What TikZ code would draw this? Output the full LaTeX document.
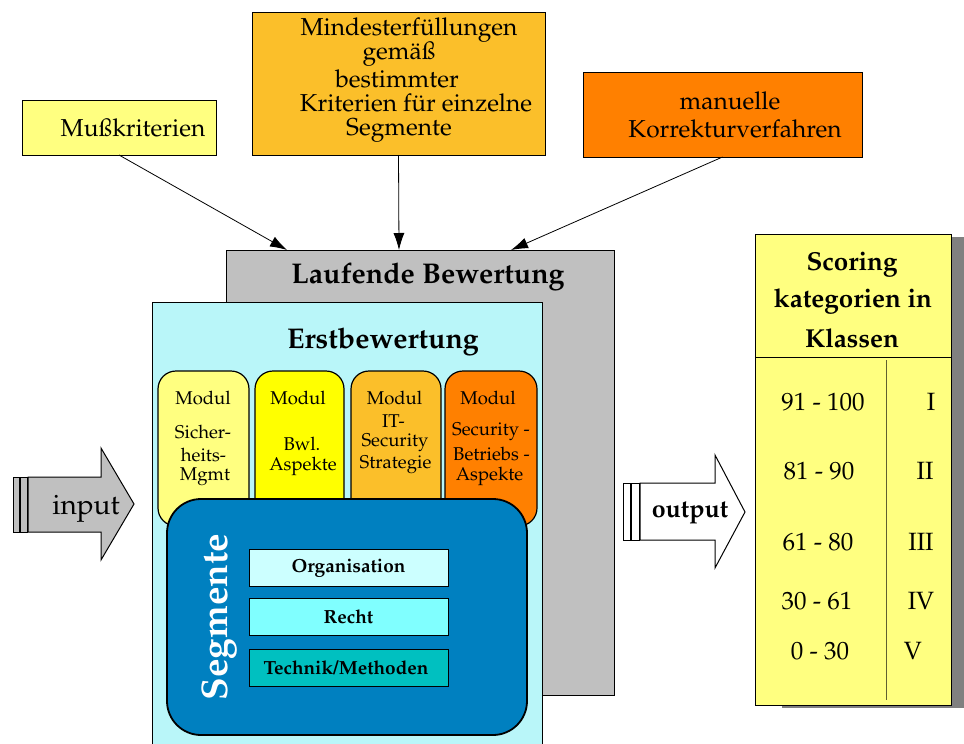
\documentclass[tikz,border=0pt]{standalone}
\usepackage[T1]{fontenc}
\usepackage{mathpazo}
\usetikzlibrary{arrows.meta,calc}
\definecolor{paleY}{HTML}{FFFF80}
\definecolor{pureY}{HTML}{FFFF00}
\definecolor{goldY}{HTML}{FBBF2A}
\definecolor{orangeC}{HTML}{FF8000}
\definecolor{grayC}{HTML}{C0C0C0}
\definecolor{cyanL}{HTML}{B9F6F9}
\definecolor{segBlue}{HTML}{0080C0}
\definecolor{orgC}{HTML}{CCFFFF}
\definecolor{rechtC}{HTML}{80FFFF}
\definecolor{techC}{HTML}{00C0C0}
\definecolor{shadowC}{HTML}{808080}
\definecolor{lineC}{HTML}{606030}
\newcommand\myfs[1]{\fontsize{#1}{#1}\selectfont}
\begin{document}
\begin{tikzpicture}[x=1pt,y=-1pt,
  box/.style={draw=black, line width=0.9pt, inner sep=0pt, outer sep=0pt, anchor=north west},
  txt/.style={inner sep=0pt, outer sep=0pt, anchor=center},
  topt/.style={txt, font=\myfs{24.5}},
  modt/.style={txt, font=\myfs{18.5}},
  modbox/.style={box, rounded corners=18pt, line width=1.2pt, minimum height=155pt},
  segbox/.style={box, line width=0.9pt, minimum width=199pt, minimum height=37pt},
  segt/.style={txt, font=\myfs{19}\bfseries},
  rowt/.style={txt, font=\myfs{25}},
  feed/.style={line width=0.8pt, -{Latex[length=17pt,width=11pt]}},
]
\useasboundingbox (0,0) rectangle (964,744);
\clip (0,0) rectangle (964,744);

% top boxes
\node[box, fill=paleY, minimum width=194pt, minimum height=55pt] (muss) at (22,100) {};
\node[topt] (mussT) at (133,128) {Mu\ss kriterien};

\node[box, fill=goldY, minimum width=293pt, minimum height=143pt] (mind) at (252,12) {};
\node[topt] (mind1) at (409,30) {Mindesterf\"ullungen};
\node[topt] (mind2) at (399,54) {gem\"a\ss};
\node[topt] (mind3) at (397,79) {bestimmter};
\node[topt] (mind4) at (416,103) {Kriterien f\"ur einzelne};
\node[topt] (mind5) at (399,130) {Segmente};

\node[box, fill=orangeC, minimum width=279pt, minimum height=85pt] (manu) at (583,72) {};
\node[topt] (manu1) at (730,101) {manuelle};
\node[topt] (manu2) at (735,129) {Korrekturverfahren};

% Laufende Bewertung
\node[box, fill=grayC, minimum width=388pt, minimum height=445pt] (lauf) at (226,250) {};
\node[txt, font=\myfs{28.5}\bfseries] (laufT) at (428,277) {Laufende Bewertung};

\draw[feed] (muss.south) -- ($(lauf.north west)+(61,0)$);
\draw[feed] (mind.south) -- ($(lauf.north west)+(173,0)$);
\draw[feed] (manu.south) -- ($(lauf.north west)+(285,0)$);

% Erstbewertung
\node[box, fill=cyanL, minimum width=390pt, minimum height=470pt] (erst) at (152,302) {};
\node[txt, font=\myfs{28.5}\bfseries] (erstT) at (383,342) {Erstbewertung};

% modules
\node[modbox, fill=paleY, minimum width=91pt] (m1) at (158,371) {};
\node[modbox, fill=pureY, minimum width=89pt] (m2) at (255,371) {};
\node[modbox, fill=goldY, minimum width=90pt] (m3) at (351,371) {};
\node[modbox, fill=orangeC, minimum width=92pt] (m4) at (445,371) {};

\node[modt] (m1a) at (203,398) {Modul};
\node[modt] (m1b) at (203,432) {Sicher-};
\node[modt] (m1c) at (203.5,455) {heits-};
\node[modt] (m1d) at (205,477) {Mgmt};

\node[modt] (m2a) at (298,398) {Modul};
\node[modt] (m2b) at (302,444) {Bwl.};
\node[modt] (m2c) at (303,466) {Aspekte};

\node[modt] (m3a) at (394.5,398) {Modul};
\node[modt] (m3b) at (393.5,421) {IT-};
\node[modt] (m3c) at (395,443) {Security};
\node[modt] (m3d) at (395.5,465) {Strategie};

\node[modt] (m4a) at (488,398) {Modul};
\node[modt] (m4b) at (491,432) {Security -};
\node[modt] (m4c) at (491.5,454) {Betriebs -};
\node[modt] (m4d) at (489.5,476) {Aspekte};

% Segmente
\node[box, fill=segBlue, rounded corners=34pt, line width=1.8pt, minimum width=360pt, minimum height=236pt] (seg) at (167,499) {};
\node[txt, rotate=90, text=white, font=\myfs{37}\bfseries] (segT) at (219,617) {Segmente};
\node[segbox, fill=orgC] (org) at (249,549) {};
\node[segt] (orgT) at (348.5,568) {Organisation};
\node[segbox, fill=rechtC] (recht) at (249,598) {};
\node[segt] (rechtT) at (348.5,617) {Recht};
\node[segbox, fill=techC] (tech) at (249,649) {};
\node[segt] (techT) at (346,668) {Technik/Methoden};

% input arrow
\draw[fill=grayC, line width=1pt] (13,477) rectangle (19.5,532);
\draw[fill=grayC, line width=1pt] (20.5,477) rectangle (27,532);
\draw[fill=grayC, line width=1pt] (28,477) -- (101,477) -- (101,448) -- (134,504) -- (101,560) -- (101,532) -- (28,532) -- cycle;
\node[txt, font=\myfs{28}] (inT) at (86,509) {input};

% output arrow
\draw[fill=white, line width=1pt] (623,483) rectangle (630.5,540);
\draw[fill=white, line width=1pt] (631.5,483) rectangle (639,540);
\draw[fill=white, line width=1pt] (640,483) -- (715,483) -- (715,455) -- (745,512) -- (715,568) -- (715,540) -- (640,540) -- cycle;
\node[txt, font=\myfs{25}\bfseries] (outT) at (690,513) {output};

% scoring table
\fill[shadowC] (782,237) rectangle (990,708);
\node[box, fill=paleY, line width=1pt, minimum width=196pt, minimum height=471pt] (score) at (755,234) {};
\draw[line width=1pt] (score.west |- 0,357) -- (score.east |- 0,357);
\draw[lineC, line width=0.9pt] (886,360) -- (886,700);
\node[txt, font=\myfs{26}\bfseries] (sc1) at (852,265) {Scoring};
\node[txt, font=\myfs{26}\bfseries] (sc2) at (853,301) {kategorien in};
\node[txt, font=\myfs{26}\bfseries] (sc3) at (852,338) {Klassen};

\node[rowt] (r1a) at (823,402) {91 - 100};
\node[rowt] (r1b) at (931,402) {I};
\node[rowt] (r2a) at (819,471) {81 - 90};
\node[rowt] (r2b) at (925,471) {II};
\node[rowt] (r3a) at (818,542) {61 - 80};
\node[rowt] (r3b) at (921,542) {III};
\node[rowt] (r4a) at (817,601) {30 - 61};
\node[rowt] (r4b) at (921,601) {IV};
\node[rowt] (r5a) at (820,651) {0 - 30};
\node[rowt] (r5b) at (913,651) {V};
\end{tikzpicture}
\end{document}
